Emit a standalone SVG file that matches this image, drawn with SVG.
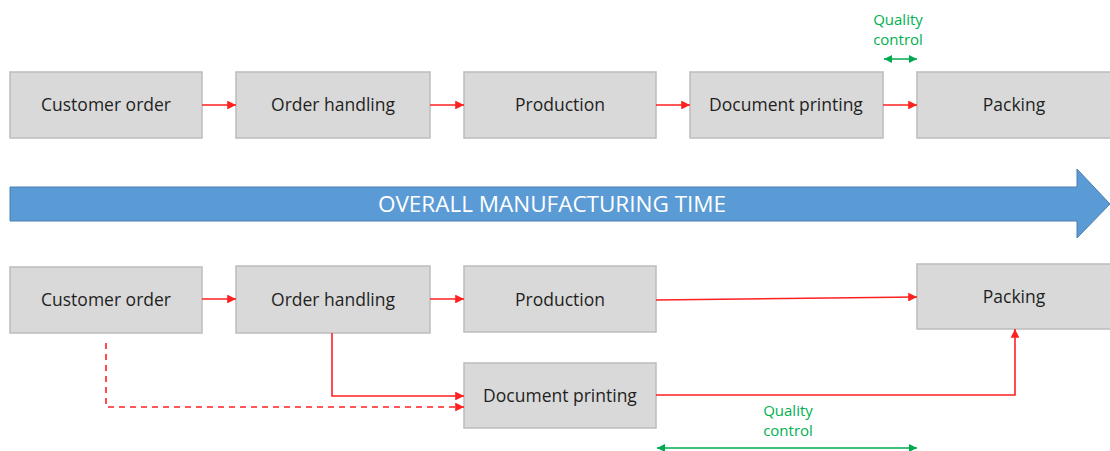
<svg xmlns="http://www.w3.org/2000/svg" width="1110" height="451" viewBox="0 0 1110 451">
  <style>
    .box { fill: #d9d9d9; stroke: #bcbcbc; stroke-width: 1.5; }
    .label { font-family: "Open Sans", "Liberation Sans", sans-serif; font-size: 17.5px; fill: #1f1f1f; text-anchor: middle; dominant-baseline: central; }
    .qc { font-family: "Open Sans", "Liberation Sans", sans-serif; font-size: 15px; fill: #00b050; text-anchor: middle; }
    .flow { fill: none; stroke: #ff2020; stroke-width: 1.6; }
    .dash { stroke-dasharray: 6 5; }
    .span { fill: none; stroke: #00a84f; stroke-width: 1.6; }
    .banner { fill: #5b9bd5; stroke: #4a7fb0; stroke-width: 1; }
    .banner-text { font-family: "Open Sans", "Liberation Sans", sans-serif; font-size: 22.5px; fill: #ffffff; text-anchor: middle; dominant-baseline: central; }
  </style>
  <defs>
    <marker id="redHead" viewBox="0 0 10 10" refX="10" refY="5" markerWidth="5.5" markerHeight="5.5" orient="auto" markerUnits="strokeWidth">
      <path d="M0,0 L10,5 L0,10 Z" fill="#ff2020"/>
    </marker>
    <marker id="greenHead" viewBox="0 0 10 10" refX="10" refY="5" markerWidth="5" markerHeight="5" orient="auto-start-reverse" markerUnits="strokeWidth">
      <path d="M0,0 L10,5 L0,10 Z" fill="#00a84f"/>
    </marker>
  </defs>

  <!-- sequential flow -->
  <g id="top-customer-order"><rect class="box" x="10" y="72" width="192" height="66"/><text class="label" x="106" y="104">Customer order</text></g>
  <g id="top-order-handling"><rect class="box" x="236" y="72" width="194" height="66"/><text class="label" x="333" y="104">Order handling</text></g>
  <g id="top-production"><rect class="box" x="464" y="72" width="192" height="66"/><text class="label" x="560" y="104">Production</text></g>
  <g id="top-document-printing"><rect class="box" x="690" y="72" width="193" height="66"/><text class="label" x="786" y="104">Document printing</text></g>
  <g id="top-packing"><rect class="box" x="917" y="72" width="200" height="66"/><text class="label" x="1014" y="104">Packing</text></g>

  <g id="top-quality-control">
    <text class="qc" x="898" y="25">Quality</text>
    <text class="qc" x="898" y="45">control</text>
  </g>

  <!-- overall time banner -->
  <g id="overall-time">
    <path class="banner" d="M10,187 L1077,187 L1077,169 L1110,204 L1077,238 L1077,221 L10,221 Z"/>
    <text class="banner-text" x="552" y="203">OVERALL MANUFACTURING TIME</text>
  </g>

  <!-- parallel flow -->
  <g id="bottom-customer-order"><rect class="box" x="10" y="267" width="192" height="66"/><text class="label" x="106" y="299">Customer order</text></g>
  <g id="bottom-order-handling"><rect class="box" x="236" y="266" width="194" height="67"/><text class="label" x="333" y="299">Order handling</text></g>
  <g id="bottom-production"><rect class="box" x="464" y="266" width="192" height="66"/><text class="label" x="560" y="299">Production</text></g>
  <g id="bottom-packing"><rect class="box" x="917" y="264" width="200" height="65"/><text class="label" x="1014" y="296">Packing</text></g>
  <g id="bottom-document-printing"><rect class="box" x="464" y="363" width="192" height="65"/><text class="label" x="560" y="395">Document printing</text></g>

  <g id="bottom-quality-control">
    <text class="qc" x="788" y="416">Quality</text>
    <text class="qc" x="788" y="436">control</text>
  </g>

  <g id="connectors">
    <!-- top row -->
    <line class="flow" x1="202" y1="105" x2="236" y2="105" marker-end="url(#redHead)"/>
    <line class="flow" x1="430" y1="105" x2="464" y2="105" marker-end="url(#redHead)"/>
    <line class="flow" x1="656" y1="105" x2="690" y2="105" marker-end="url(#redHead)"/>
    <line class="flow" x1="883" y1="105" x2="917" y2="105" marker-end="url(#redHead)"/>
    <line class="span" x1="884" y1="59" x2="917" y2="59" marker-start="url(#greenHead)" marker-end="url(#greenHead)"/>

    <!-- bottom rows -->
    <line class="flow" x1="202" y1="299" x2="236" y2="299" marker-end="url(#redHead)"/>
    <line class="flow" x1="430" y1="299" x2="464" y2="299" marker-end="url(#redHead)"/>
    <line class="flow" x1="656" y1="300" x2="917" y2="297" marker-end="url(#redHead)"/>
    <polyline class="flow" points="332,333 332,396 464,396" marker-end="url(#redHead)"/>
    <polyline class="flow dash" points="106,343 106,407 464,407" marker-end="url(#redHead)"/>
    <polyline class="flow" points="656,395 1015,395 1015,329" marker-end="url(#redHead)"/>
    <line class="span" x1="657" y1="448" x2="917" y2="448" marker-start="url(#greenHead)" marker-end="url(#greenHead)"/>
  </g>
</svg>
